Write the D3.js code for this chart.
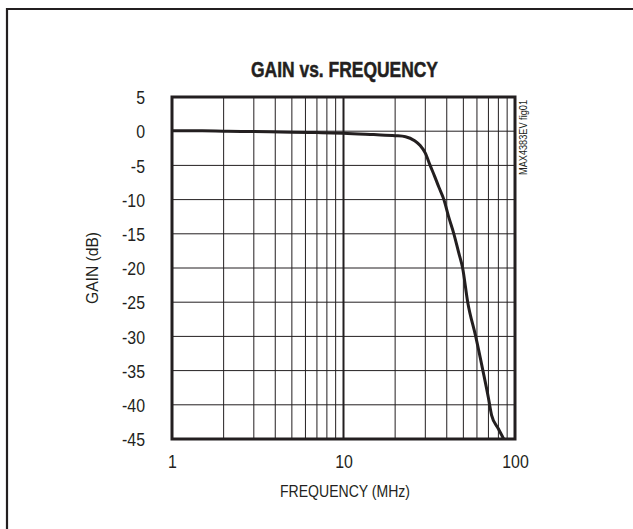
<!DOCTYPE html>
<html>
<head>
<meta charset="utf-8">
<script src="https://cdn.jsdelivr.net/npm/d3@7"></script>
<style>
  html, body { margin: 0; padding: 0; background: #fff; overflow: hidden; }
  svg { display: block; }
  text { font-family: "Liberation Sans", Arial, sans-serif; fill: #231f20; }
</style>
</head>
<body>
<svg id="chart" width="633" height="529"></svg>
<script>
// ---- data ----
const title = "GAIN vs. FREQUENCY";
const xTitle = "FREQUENCY (MHz)";
const yTitle = "GAIN (dB)";
const figLabel = "MAX4383EV fig01";
const xTickValues = [1, 10, 100];
const xTickLabels = ["1", "10", "100"];
const yTickValues = [5, 0, -5, -10, -15, -20, -25, -30, -35, -40, -45];
const freqMHz = [1, 1.5, 2, 3, 5, 7, 10, 15, 20, 23, 26, 28, 30, 32, 34, 36, 38.5, 41, 44, 47, 49.5, 53, 59, 65, 70, 73, 80, 86];
const gainDb  = [0.05, 0.05, 0.0, -0.05, -0.15, -0.2, -0.3, -0.5, -0.65, -0.8, -1.4, -2.1, -3.2, -5.0, -6.6, -8.2, -10, -12.5, -15, -17.8, -20, -25, -30, -35, -39, -41.5, -43.5, -45];

// ---- layout ----
const svg = d3.select("#chart");
const W = 633, H = 529;
const pL = 172, pR = 515, pT = 97, pB = 439;
const ink = "#231f20";
const narrow = 0.86;

const x = d3.scaleLog().domain([1, 100]).range([pL, pR]);
const y = d3.scaleLinear().domain([-45, 5]).range([pB, pT]);

// outer frame (only left and top edges fall inside the viewport)
svg.append("line").attr("x1", 7).attr("x2", 7).attr("y1", 8).attr("y2", H + 5)
  .attr("stroke", ink).attr("stroke-width", 2.2);
svg.append("line").attr("x1", 6).attr("x2", W + 5).attr("y1", 9).attr("y2", 9)
  .attr("stroke", ink).attr("stroke-width", 2.2);

// title
svg.append("text")
  .attr("x", 344.5).attr("y", 77)
  .attr("text-anchor", "middle")
  .attr("font-size", 22).attr("font-weight", "bold")
  .attr("stroke", ink).attr("stroke-width", 0.5)
  .attr("textLength", 187).attr("lengthAdjust", "spacingAndGlyphs")
  .text(title);

// grid
const minorX = [];
[1, 10].forEach(d => { for (let k = 2; k <= 9; k++) minorX.push(d * k); });
const grid = svg.append("g");
grid.selectAll("line.vx").data(minorX).enter().append("line")
  .attr("x1", d => x(d)).attr("x2", d => x(d))
  .attr("y1", pT).attr("y2", pB)
  .attr("stroke", ink).attr("stroke-width", 1);
grid.append("line")
  .attr("x1", x(10)).attr("x2", x(10)).attr("y1", pT).attr("y2", pB)
  .attr("stroke", ink).attr("stroke-width", 2);
grid.selectAll("line.hy").data(yTickValues.filter(v => v !== 5 && v !== -45)).enter().append("line")
  .attr("x1", pL).attr("x2", pR)
  .attr("y1", d => y(d)).attr("y2", d => y(d))
  .attr("stroke", ink).attr("stroke-width", 1);

// axes (labels only)
const yAxis = d3.axisLeft(y).tickValues(yTickValues).tickSize(0).tickPadding(0).tickFormat(d => String(d));
const gy = svg.append("g").attr("transform", `translate(${pL - 27},0)`).call(yAxis);
gy.select(".domain").remove();
gy.attr("font-family", null).attr("font-size", null);
gy.selectAll("text").attr("font-size", 18.5).attr("fill", ink).attr("dy", "0.36em")
  .attr("transform", `scale(${narrow},1)`);

const xAxis = d3.axisBottom(x).tickValues(xTickValues).tickSize(0).tickPadding(0)
  .tickFormat((d, i) => xTickLabels[i]);
const gx = svg.append("g").attr("transform", `translate(0,${pB + 29})`).call(xAxis);
gx.select(".domain").remove();
gx.attr("font-family", null).attr("font-size", null);
gx.selectAll("text").attr("font-size", 18.5).attr("fill", ink).attr("dy", 0)
  .attr("transform", `scale(${narrow},1)`);

// axis titles
svg.append("text")
  .attr("x", 345).attr("y", 497)
  .attr("text-anchor", "middle").attr("font-size", 17)
  .attr("textLength", 130).attr("lengthAdjust", "spacingAndGlyphs")
  .text(xTitle);
svg.append("text")
  .attr("transform", `translate(98,${(pT + pB) / 2}) rotate(-90)`)
  .attr("text-anchor", "middle").attr("font-size", 17)
  .attr("textLength", 72).attr("lengthAdjust", "spacingAndGlyphs")
  .text(yTitle);

// fig label
svg.append("text")
  .attr("transform", `translate(527,${pT + 3}) rotate(-90)`)
  .attr("text-anchor", "end").attr("font-size", 11)
  .attr("textLength", 75).attr("lengthAdjust", "spacingAndGlyphs")
  .text(figLabel);

// curve
const pts = freqMHz.map((f, i) => [f, gainDb[i]]);
const line = d3.line().x(d => x(d[0])).y(d => y(d[1])).curve(d3.curveMonotoneX);
svg.append("path")
  .attr("d", line(pts))
  .attr("fill", "none").attr("stroke", ink).attr("stroke-width", 3).attr("stroke-linejoin", "round");

// plot frame
svg.append("rect")
  .attr("x", pL).attr("y", pT).attr("width", pR - pL).attr("height", pB - pT)
  .attr("fill", "none").attr("stroke", ink).attr("stroke-width", 3);
</script>
</body>
</html>
